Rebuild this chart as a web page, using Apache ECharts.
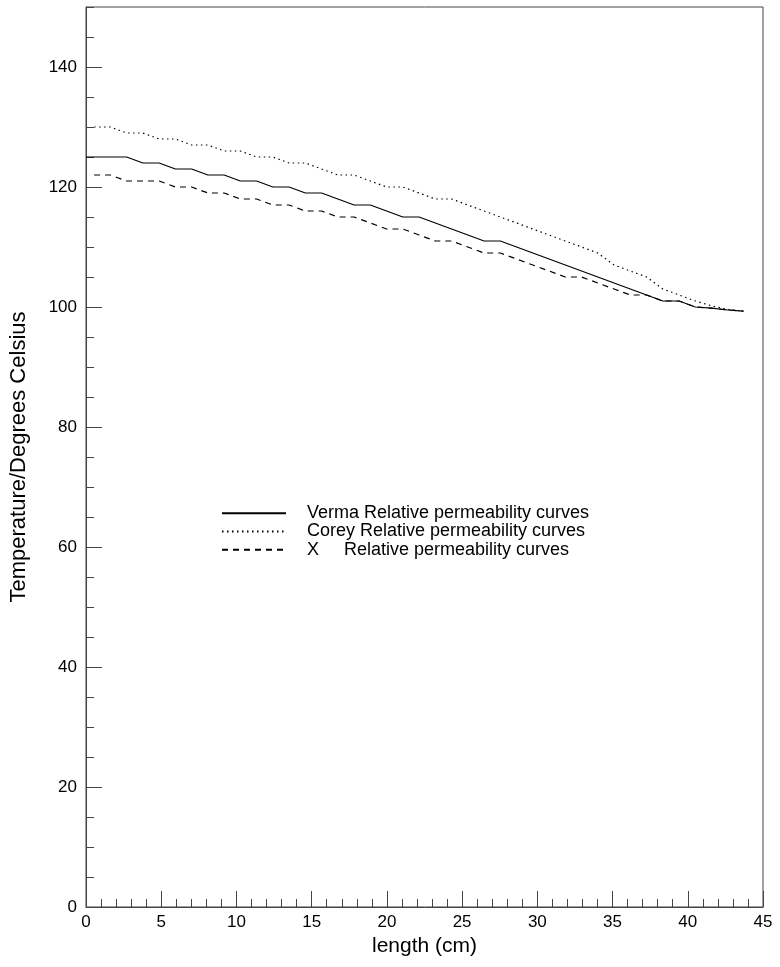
<!DOCTYPE html>
<html>
<head>
<meta charset="utf-8">
<script src="https://cdn.jsdelivr.net/npm/echarts@6/dist/echarts.min.js"></script>
<style>
  html, body { margin: 0; padding: 0; background: #fff; }
  #chart { width: 780px; height: 967px; }
</style>
</head>
<body>
<div id="chart"></div>
<script>
// Sample positions along the core (cm): inlet boundary, cell centres, outlet
const lengthCm = [0, 0.54, 1.62, 2.70, 3.78, 4.86, 5.94, 7.02, 8.10, 9.18, 10.26,
  11.34, 12.42, 13.50, 14.58, 15.66, 16.74, 17.82, 18.90, 19.98, 21.06,
  22.14, 23.22, 24.30, 25.38, 26.46, 27.54, 28.62, 29.70, 30.78, 31.86,
  32.94, 34.02, 35.10, 36.18, 37.26, 38.34, 39.42, 40.50, 41.58, 42.66, 43.70];

// Temperature profiles (degrees Celsius) for each relative permeability model
const vermaTemp = [125, 125, 125, 125, 124, 124, 123, 123, 122, 122, 121,
  121, 120, 120, 119, 119, 118, 117, 117, 116, 115,
  115, 114, 113, 112, 111, 111, 110, 109, 108, 107,
  106, 105, 104, 103, 102, 101, 101, 100, 99.8, 99.5, 99.3];

const coreyTemp = [null, 130, 130, 129, 129, 128, 128, 127, 127, 126, 126,
  125, 125, 124, 124, 123, 122, 122, 121, 120, 120,
  119, 118, 118, 117, 116, 115, 114, 113, 112, 111,
  110, 109, 107, 106, 105, 103, 102, 101, 100.2, 99.6, 99.3];

const xTemp = [null, 122, 122, 121, 121, 121, 120, 120, 119, 119, 118,
  118, 117, 117, 116, 116, 115, 115, 114, 113, 113,
  112, 111, 111, 110, 109, 109, 108, 107, 106, 105,
  105, 104, 103, 102, 102, 101, 101, 100, 99.8, 99.5, 99.3];

const seriesNames = [
  'Verma Relative permeability curves',
  'Corey Relative permeability curves',
  'X     Relative permeability curves'
];

const FONT = '"Liberation Sans", Arial, Helvetica, sans-serif';
const AXIS_COLOR = '#444';

function pairs(ys) {
  return lengthCm.map((x, i) => [x, ys[i]]);
}

const chart = echarts.init(document.getElementById('chart'), null, { renderer: 'canvas' });

const option = {
  animation: false,
  backgroundColor: '#fff',
  textStyle: { fontFamily: FONT },
  grid: {
    left: 86, right: 17, top: 7, bottom: 60,
    show: true, borderColor: AXIS_COLOR, borderWidth: 1, backgroundColor: 'transparent'
  },
  legend: {
    orient: 'vertical',
    left: 216,
    top: 499,
    itemWidth: 64,
    itemHeight: 10,
    itemGap: 0,
    selectedMode: false,
    itemStyle: { opacity: 0 },
    textStyle: { fontFamily: FONT, fontSize: 18, color: '#000', lineHeight: 18.3, padding: [0, 0, 0, 16] },
    data: seriesNames
  },
  xAxis: {
    type: 'value',
    min: 0, max: 45, interval: 5,
    name: 'length (cm)',
    nameLocation: 'middle',
    nameGap: 26,
    nameTextStyle: { fontFamily: FONT, fontSize: 21, color: '#000' },
    axisLine: { show: true, lineStyle: { color: AXIS_COLOR, width: 1 } },
    axisTick: { show: true, inside: true, length: 16, lineStyle: { color: AXIS_COLOR } },
    minorTick: { show: true, splitNumber: 5, length: 8, lineStyle: { color: AXIS_COLOR } },
    axisLabel: { fontFamily: FONT, fontSize: 17, color: '#000', margin: 7 },
    splitLine: { show: false },
    minorSplitLine: { show: false }
  },
  yAxis: [
    {
      type: 'value',
      position: 'left',
      min: 0, max: 150, interval: 20,
      name: 'Temperature/Degrees Celsius',
      nameLocation: 'middle',
      nameGap: 56,
      nameTextStyle: { fontFamily: FONT, fontSize: 22, color: '#000' },
      axisLine: { show: true, lineStyle: { color: AXIS_COLOR, width: 1 } },
      axisTick: { show: true, inside: true, length: 16, lineStyle: { color: AXIS_COLOR } },
      axisLabel: { fontFamily: FONT, fontSize: 17, color: '#000', margin: 9, showMaxLabel: false },
      splitLine: { show: false }
    },
    {
      // finer 5-degree ticks along the same left edge
      type: 'value',
      position: 'left',
      offset: 0,
      min: 0, max: 150, interval: 5,
      axisLine: { show: false },
      axisTick: { show: true, inside: true, length: 8, lineStyle: { color: AXIS_COLOR } },
      axisLabel: { show: false },
      splitLine: { show: false }
    }
  ],
  series: [
    {
      name: seriesNames[0],
      type: 'line',
      yAxisIndex: 0,
      symbol: 'none',
      data: pairs(vermaTemp),
      lineStyle: { color: '#000', width: 1.2, type: 'solid' },
      itemStyle: { color: '#000' },
      z: 4
    },
    {
      name: seriesNames[1],
      type: 'line',
      yAxisIndex: 0,
      symbol: 'none',
      data: pairs(coreyTemp),
      lineStyle: { color: '#000', width: 1.2, type: [1.5, 3.5] },
      itemStyle: { color: '#000' },
      z: 3
    },
    {
      name: seriesNames[2],
      type: 'line',
      yAxisIndex: 0,
      symbol: 'none',
      data: pairs(xTemp),
      lineStyle: { color: '#000', width: 1.2, type: [6, 5] },
      itemStyle: { color: '#000' },
      z: 3
    }
  ]
};

chart.setOption(option);
</script>
</body>
</html>
